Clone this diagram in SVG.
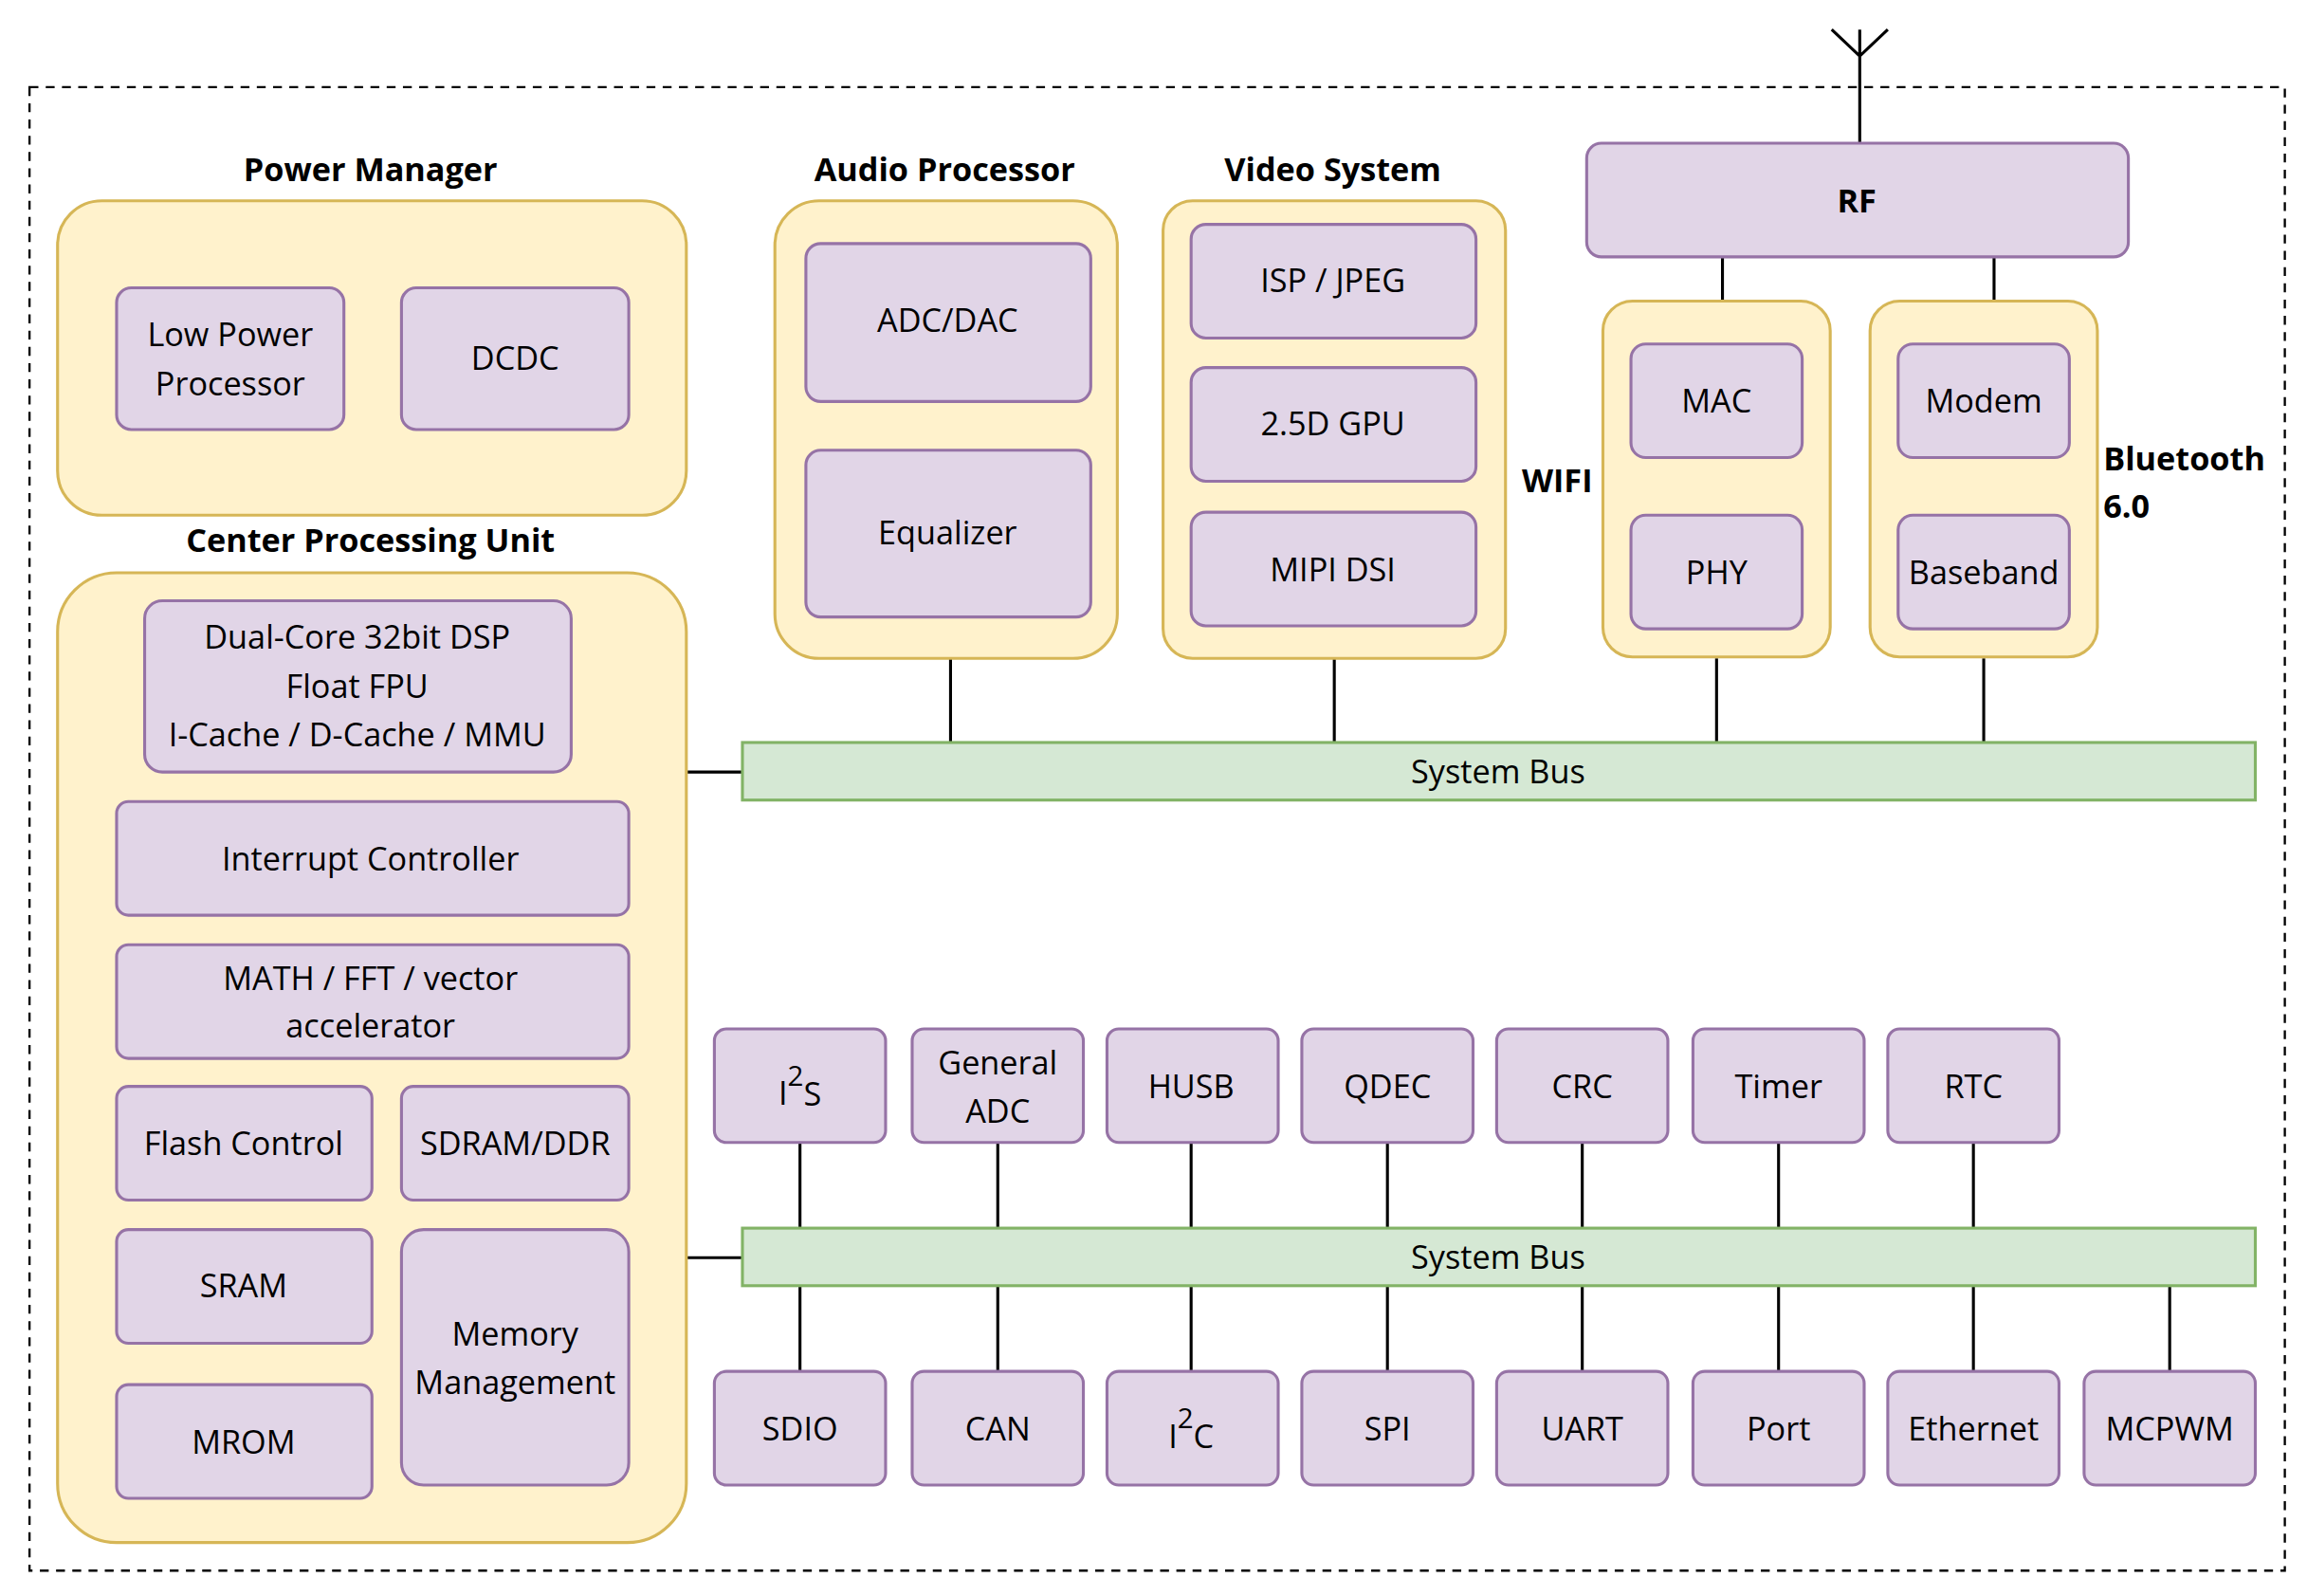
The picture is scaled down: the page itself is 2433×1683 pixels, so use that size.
<svg xmlns="http://www.w3.org/2000/svg" width="2433" height="1683" viewBox="0 0 2433 1683">
<style>
text{font-family:"Open Sans","Noto Sans",sans-serif;font-size:22px;fill:#000;text-anchor:middle;dominant-baseline:central}
.t{font-weight:bold}
.p{fill:#e1d5e7;stroke:#9673a6;stroke-width:2}
.y{fill:#fff2cc;stroke:#d6b656;stroke-width:2}
.b{fill:#d5e8d4;stroke:#82b366;stroke-width:2}
.l{stroke:#000;stroke-width:2;fill:none}
</style>
<rect width="2433" height="1683" fill="#fff"/>
<g transform="scale(1.5566)">
<rect x="20" y="59" width="1528" height="1005" fill="none" stroke="#000" stroke-width="1.5" stroke-dasharray="6 5"/>
<g id="connectors">
<path class="l" d="M1241 20L1260 38L1279 20M1260 20V97M1167 174V204M1351 174V204M644 446V503M904 446V503M1163 446V503M1344 446V503M465 523H503M465 852H503"/>
<path class="l" d="M542 774V832M676 774V832M807 774V832M940 774V832M1072 774V832M1205 774V832M1337 774V832M542 871V929M676 871V929M807 871V929M940 871V929M1072 871V929M1205 871V929M1337 871V929M1470 871V929"/>
</g>
<g id="rf"><rect class="p" x="1075" y="97" width="367" height="77" rx="10"/><text class="t" x="1258" y="135">RF</text></g>
<g id="wifi"><rect class="y" x="1086" y="204" width="154" height="241" rx="20"/><text class="t" x="1055" y="325">WIFI</text>
<rect class="p" x="1105" y="233" width="116" height="77" rx="10"/><text x="1163" y="271">MAC</text>
<rect class="p" x="1105" y="349" width="116" height="77" rx="10"/><text x="1163" y="387">PHY</text></g>
<g id="bluetooth"><rect class="y" x="1267" y="204" width="154" height="241" rx="20"/><text class="t" x="1425" y="310" style="text-anchor:start">Bluetooth</text><text class="t" x="1425" y="342" style="text-anchor:start">6.0</text>
<rect class="p" x="1286" y="233" width="116" height="77" rx="10"/><text x="1344" y="271">Modem</text>
<rect class="p" x="1286" y="349" width="116" height="77" rx="10"/><text x="1344" y="387">Baseband</text></g>
<g id="power"><text class="t" x="251" y="114">Power Manager</text><rect class="y" x="39" y="136" width="426" height="213" rx="30"/>
<rect class="p" x="79" y="195" width="154" height="96" rx="10"/><text x="156" y="226">Low Power</text><text x="156" y="259">Processor</text>
<rect class="p" x="272" y="195" width="154" height="96" rx="10"/><text x="349" y="242">DCDC</text></g>
<g id="audio"><text class="t" x="640" y="114">Audio Processor</text><rect class="y" x="525" y="136" width="232" height="310" rx="30"/>
<rect class="p" x="546" y="165" width="193" height="107" rx="10"/><text x="642" y="216">ADC/DAC</text>
<rect class="p" x="546" y="305" width="193" height="113" rx="10"/><text x="642" y="360">Equalizer</text></g>
<g id="video"><text class="t" x="903" y="114">Video System</text><rect class="y" x="788" y="136" width="232" height="310" rx="20"/>
<rect class="p" x="807" y="152" width="193" height="77" rx="10"/><text x="903" y="189">ISP / JPEG</text>
<rect class="p" x="807" y="249" width="193" height="77" rx="10"/><text x="903" y="286">2.5D GPU</text>
<rect class="p" x="807" y="347" width="193" height="77" rx="10"/><text x="903" y="385">MIPI DSI</text></g>
<g id="bus1"><rect class="b" x="503" y="503" width="1025" height="39"/><text x="1015" y="522">System Bus</text></g>
<g id="bus2"><rect class="b" x="503" y="832" width="1025" height="39"/><text x="1015" y="851">System Bus</text></g>
<g id="cpu"><text class="t" x="251" y="365">Center Processing Unit</text><rect class="y" x="39" y="388" width="426" height="657" rx="40"/>
<rect class="p" x="98" y="407" width="289" height="116" rx="12"/><text x="242" y="431">Dual-Core 32bit DSP</text><text x="242" y="464">Float FPU</text><text x="242" y="497">I-Cache / D-Cache / MMU</text>
<rect class="p" x="79" y="543" width="347" height="77" rx="8"/><text x="251" y="581">Interrupt Controller</text>
<rect class="p" x="79" y="640" width="347" height="77" rx="8"/><text x="251" y="662">MATH / FFT / vector</text><text x="251" y="694">accelerator</text>
<rect class="p" x="79" y="736" width="173" height="77" rx="8"/><text x="165" y="774">Flash Control</text>
<rect class="p" x="272" y="736" width="154" height="77" rx="8"/><text x="349" y="774">SDRAM/DDR</text>
<rect class="p" x="79" y="833" width="173" height="77" rx="8"/><text x="165" y="870">SRAM</text>
<rect class="p" x="79" y="938" width="173" height="77" rx="8"/><text x="165" y="976">MROM</text>
<rect class="p" x="272" y="833" width="154" height="173" rx="15"/><text x="349" y="903">Memory</text><text x="349" y="936">Management</text></g>
<g id="i2s"><rect class="p" x="484" y="697" width="116" height="77" rx="8"/><text x="542" y="740">I<tspan dy="-12" font-size="19">2</tspan><tspan dy="12">S</tspan></text></g>
<g id="adc"><rect class="p" x="618" y="697" width="116" height="77" rx="8"/><text x="676" y="719">General</text><text x="676" y="752">ADC</text></g>
<g id="husb"><rect class="p" x="750" y="697" width="116" height="77" rx="8"/><text x="807" y="735">HUSB</text></g>
<g id="qdec"><rect class="p" x="882" y="697" width="116" height="77" rx="8"/><text x="940" y="735">QDEC</text></g>
<g id="crc"><rect class="p" x="1014" y="697" width="116" height="77" rx="8"/><text x="1072" y="735">CRC</text></g>
<g id="timer"><rect class="p" x="1147" y="697" width="116" height="77" rx="8"/><text x="1205" y="735">Timer</text></g>
<g id="rtc"><rect class="p" x="1279" y="697" width="116" height="77" rx="8"/><text x="1337" y="735">RTC</text></g>
<g id="sdio"><rect class="p" x="484" y="929" width="116" height="77" rx="8"/><text x="542" y="967">SDIO</text></g>
<g id="can"><rect class="p" x="618" y="929" width="116" height="77" rx="8"/><text x="676" y="967">CAN</text></g>
<g id="i2c"><rect class="p" x="750" y="929" width="116" height="77" rx="8"/><text x="807" y="972">I<tspan dy="-12" font-size="19">2</tspan><tspan dy="12">C</tspan></text></g>
<g id="spi"><rect class="p" x="882" y="929" width="116" height="77" rx="8"/><text x="940" y="967">SPI</text></g>
<g id="uart"><rect class="p" x="1014" y="929" width="116" height="77" rx="8"/><text x="1072" y="967">UART</text></g>
<g id="port"><rect class="p" x="1147" y="929" width="116" height="77" rx="8"/><text x="1205" y="967">Port</text></g>
<g id="ethernet"><rect class="p" x="1279" y="929" width="116" height="77" rx="8"/><text x="1337" y="967">Ethernet</text></g>
<g id="mcpwm"><rect class="p" x="1412" y="929" width="116" height="77" rx="8"/><text x="1470" y="967">MCPWM</text></g>
</g>
</svg>
